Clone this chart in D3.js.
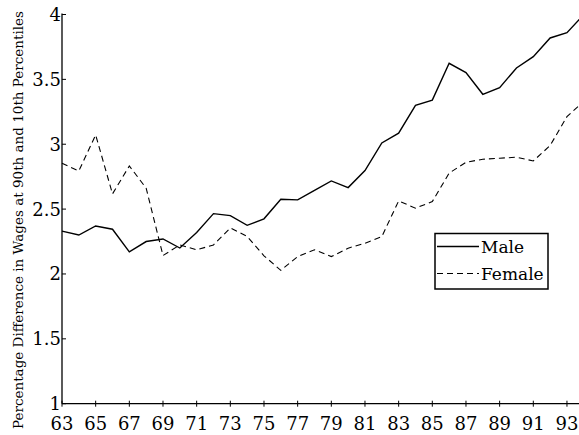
<!DOCTYPE html>
<html>
<meta charset="utf-8">
<title>Wage gap 90/10</title>
<style>
  body { margin: 0; background: #fff; }
  text { font-family: "DejaVu Serif", "Liberation Serif", serif; fill: #000; }
</style>
<body>
<div id="chart"></div>
<script src="https://d3js.org/d3.v7.min.js"></script>
<script>
// data
var years = d3.range(63, 95);
var male = [2.33, 2.30, 2.37, 2.345, 2.17, 2.25, 2.27, 2.20, 2.32, 2.465, 2.45, 2.375,
            2.425, 2.576, 2.571, 2.645, 2.717, 2.666, 2.797, 3.01, 3.085, 3.30, 3.34, 3.624,
            3.552, 3.385, 3.436, 3.588, 3.675, 3.819, 3.86, 4.0];
var female = [2.853, 2.794, 3.072, 2.617, 2.833, 2.661, 2.142, 2.224, 2.186, 2.224, 2.355, 2.29,
              2.14, 2.028, 2.134, 2.186, 2.134, 2.199, 2.237, 2.288, 2.563, 2.507, 2.558, 2.777,
              2.861, 2.884, 2.892, 2.90, 2.871, 2.99, 3.213, 3.33];
var xTicks = d3.range(63, 94, 2);
var yTicks = [1, 1.5, 2, 2.5, 3, 3.5, 4];

var W = 579, H = 435;
var svg = d3.select("#chart").append("svg").attr("width", W).attr("height", H);

var x = d3.scaleLinear().domain([63, 94]).range([62, 583.8]);
var y = d3.scaleLinear().domain([1, 4]).range([403.7, 14.5]);

// axes
svg.append("line").attr("x1", 62).attr("x2", W).attr("y1", y(1)).attr("y2", y(1))
  .attr("stroke", "#000").attr("stroke-width", 1.3);
svg.append("line").attr("x1", 62).attr("x2", 62).attr("y1", y(1)).attr("y2", y(4) - 1)
  .attr("stroke", "#000").attr("stroke-width", 1.3);

var xa = svg.append("g");
xa.selectAll("line").data(xTicks).enter().append("line")
  .attr("x1", d => x(d)).attr("x2", d => x(d))
  .attr("y1", y(1) - 3).attr("y2", y(1) + 3)
  .attr("stroke", "#000").attr("stroke-width", 1);
xa.selectAll("text").data(xTicks).enter().append("text")
  .attr("x", d => x(d)).attr("y", 429.5)
  .attr("text-anchor", "middle").style("font-size", "18px")
  .text(d => d);

var ya = svg.append("g");
ya.selectAll("line").data(yTicks).enter().append("line")
  .attr("x1", 62).attr("x2", 66)
  .attr("y1", d => y(d)).attr("y2", d => y(d))
  .attr("stroke", "#000").attr("stroke-width", 1);
ya.selectAll("text").data(yTicks).enter().append("text")
  .attr("x", 61).attr("y", d => y(d) + 6.5)
  .attr("text-anchor", "end").style("font-size", "18px")
  .text(d => d);

svg.append("text")
  .attr("transform", "translate(23,220) rotate(-90)")
  .attr("text-anchor", "middle").style("font-size", "13.5px")
  .text("Percentage Difference in Wages at 90th and 10th Percentiles");

// series
var line = d3.line().x((d, i) => x(years[i])).y(d => y(d));
svg.append("path").datum(male).attr("d", line)
  .attr("fill", "none").attr("stroke", "#000").attr("stroke-width", 1.4);
svg.append("path").datum(female).attr("d", line)
  .attr("fill", "none").attr("stroke", "#000").attr("stroke-width", 1.1)
  .attr("stroke-dasharray", "6,4");

// legend
var lg = svg.append("g");
lg.append("rect").attr("x", 435).attr("y", 233.5).attr("width", 113).attr("height", 55.5)
  .attr("fill", "#fff").attr("stroke", "#000").attr("stroke-width", 1.5);
lg.append("line").attr("x1", 437).attr("x2", 479).attr("y1", 246.5).attr("y2", 246.5)
  .attr("stroke", "#000").attr("stroke-width", 1.3);
lg.append("line").attr("x1", 437).attr("x2", 479).attr("y1", 273.5).attr("y2", 273.5)
  .attr("stroke", "#000").attr("stroke-width", 1.1).attr("stroke-dasharray", "6,4");
lg.append("text").attr("x", 481).attr("y", 253).style("font-size", "17px").text("Male");
lg.append("text").attr("x", 481).attr("y", 280).style("font-size", "17px").text("Female");
</script>
</body>
</html>
